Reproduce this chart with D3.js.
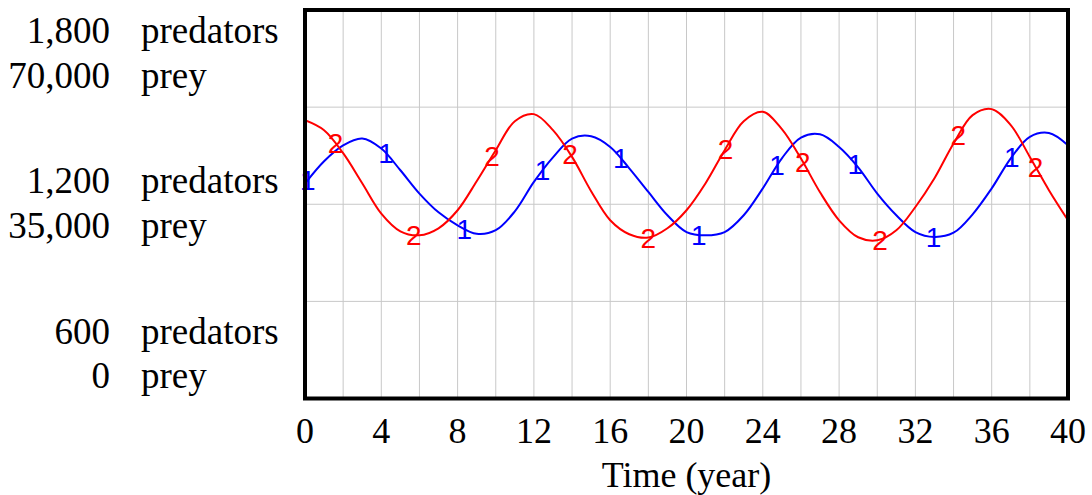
<!DOCTYPE html>
<html><head><meta charset="utf-8">
<script src="https://cdn.jsdelivr.net/npm/d3@7"></script>
<style>body{margin:0;background:#fff}svg{display:block}</style>
</head><body>
<svg id="chart" width="1092" height="495"></svg>
<script>
// ---- data ----
const years = [0,1,2,3,4,5,6,7,8,9,10,11,12,13,14,15,16,17,18,19,20,21,22,23,24,25,26,27,28,29,30,31,32,33,34,35,36,37,38,39,40];
const predators = [1264,1333,1382,1403,1372,1305,1233,1175,1135,1109,1120,1178,1269,1345,1403,1410,1377,1311,1238,1166,1114,1104,1114,1166,1249,1342,1406,1416,1377,1314,1233,1166,1114,1099,1112,1169,1249,1342,1408,1420,1382];
const prey = [50150,48350,44200,38790,33320,30130,29410,30670,33920,39150,44740,49970,51240,48350,43530,37350,32110,29590,28990,30670,33920,38790,44740,49970,51650,48530,43240,37160,32110,29050,28500,30310,34510,39690,45950,51060,52140,49250,43530,37530,32110];
const predatorTicks = [600, 1200, 1800];
const preyTicks = [0, 35000, 70000];
const gridValues = [900, 1200, 1500];
const xTicks = [0,4,8,12,16,20,24,28,32,36,40];
const xGrid = [2,4,6,8,10,12,14,16,18,20,22,24,26,28,30,32,34,36,38];
const marker1Times = [0.15,4.25,8.35,12.45,16.55,20.65,24.75,28.85,32.95,37.05];
const marker2Times = [1.6,5.7,9.8,13.9,18.0,22.05,26.1,30.15,34.25,38.3];
const xLabel = "Time (year)";

// ---- layout ----
const L = 305, R = 1068, T = 10, B = 398.5;
const svg = d3.select("#chart");
const x = d3.scaleLinear().domain([0, 40]).range([L, R]);
const yPred = d3.scaleLinear().domain([600, 1800]).range([B, T]);
const yPrey = d3.scaleLinear().domain([0, 70000]).range([B, T]);
const serif = "'Liberation Serif','Times New Roman',serif";

// grid
svg.append("g").selectAll("line").data(xGrid).join("line")
  .attr("x1", d => x(d)).attr("x2", d => x(d)).attr("y1", T).attr("y2", B)
  .attr("stroke", "#c8c8c8").attr("stroke-width", 1);
svg.append("g").selectAll("line").data(gridValues).join("line")
  .attr("x1", L).attr("x2", R).attr("y1", d => yPred(d)).attr("y2", d => yPred(d))
  .attr("stroke", "#c8c8c8").attr("stroke-width", 1);

// clip
svg.append("clipPath").attr("id", "clip").append("rect")
  .attr("x", L).attr("y", T).attr("width", R - L).attr("height", B - T);

const series = [
  {vals: predators, y: yPred, color: "#0000ff", label: "1", marks: marker1Times},
  {vals: prey, y: yPrey, color: "#ff0000", label: "2", marks: marker2Times}
];

series.forEach(s => {
  const line = d3.line().x((d, i) => x(years[i])).y(d => s.y(d)).curve(d3.curveCatmullRom.alpha(0.5));
  const path = svg.append("path").datum(s.vals)
    .attr("clip-path", "url(#clip)")
    .attr("fill", "none").attr("stroke", s.color).attr("stroke-width", 2)
    .attr("d", line);
  const node = path.node();
  const total = node.getTotalLength();
  function yAtX(px) {
    let lo = 0, hi = total;
    for (let k = 0; k < 40; k++) {
      const mid = (lo + hi) / 2;
      if (node.getPointAtLength(mid).x < px) lo = mid; else hi = mid;
    }
    return node.getPointAtLength((lo + hi) / 2).y;
  }
  svg.append("g").selectAll("text").data(s.marks).join("text")
    .attr("x", d => x(d)).attr("y", d => yAtX(x(d)))
    .attr("dy", "0.36em").attr("text-anchor", "middle")
    .attr("font-family", "'Liberation Sans',Arial,sans-serif").attr("font-size", 28)
    .attr("fill", s.color).text(s.label);
});

// frame
svg.append("rect").attr("x", L).attr("y", T).attr("width", R - L).attr("height", B - T)
  .attr("fill", "none").attr("stroke", "#000").attr("stroke-width", 4);

// x tick labels
svg.append("g").selectAll("text").data(xTicks).join("text")
  .attr("x", d => x(d)).attr("y", 443).attr("text-anchor", "middle")
  .attr("font-family", serif).attr("font-size", 36).attr("fill", "#000").text(d => d);
svg.append("text").attr("x", (L + R) / 2).attr("y", 487).attr("text-anchor", "middle")
  .attr("font-family", serif).attr("font-size", 36).attr("fill", "#000").text(xLabel);

// left axis labels (stacked pairs: predators over prey)
const fmt = d3.format(",");
const offsets = [[-55, -11], [-11.5, 33.5], [32.5, 77.5]]; // bottom, middle, top
predatorTicks.forEach((v, i) => {
  const yb = yPred(v);
  const pairs = [[fmt(v), "predators", yb + offsets[i][0]], [fmt(preyTicks[i]), "prey", yb + offsets[i][1]]];
  pairs.forEach(p => {
    svg.append("text").attr("x", 110).attr("y", p[2]).attr("text-anchor", "end")
      .attr("font-family", serif).attr("font-size", 37).attr("fill", "#000").text(p[0]);
    svg.append("text").attr("x", 141).attr("y", p[2]).attr("text-anchor", "start")
      .attr("font-family", serif).attr("font-size", 37).attr("fill", "#000").text(p[1]);
  });
});
</script>
</body></html>
